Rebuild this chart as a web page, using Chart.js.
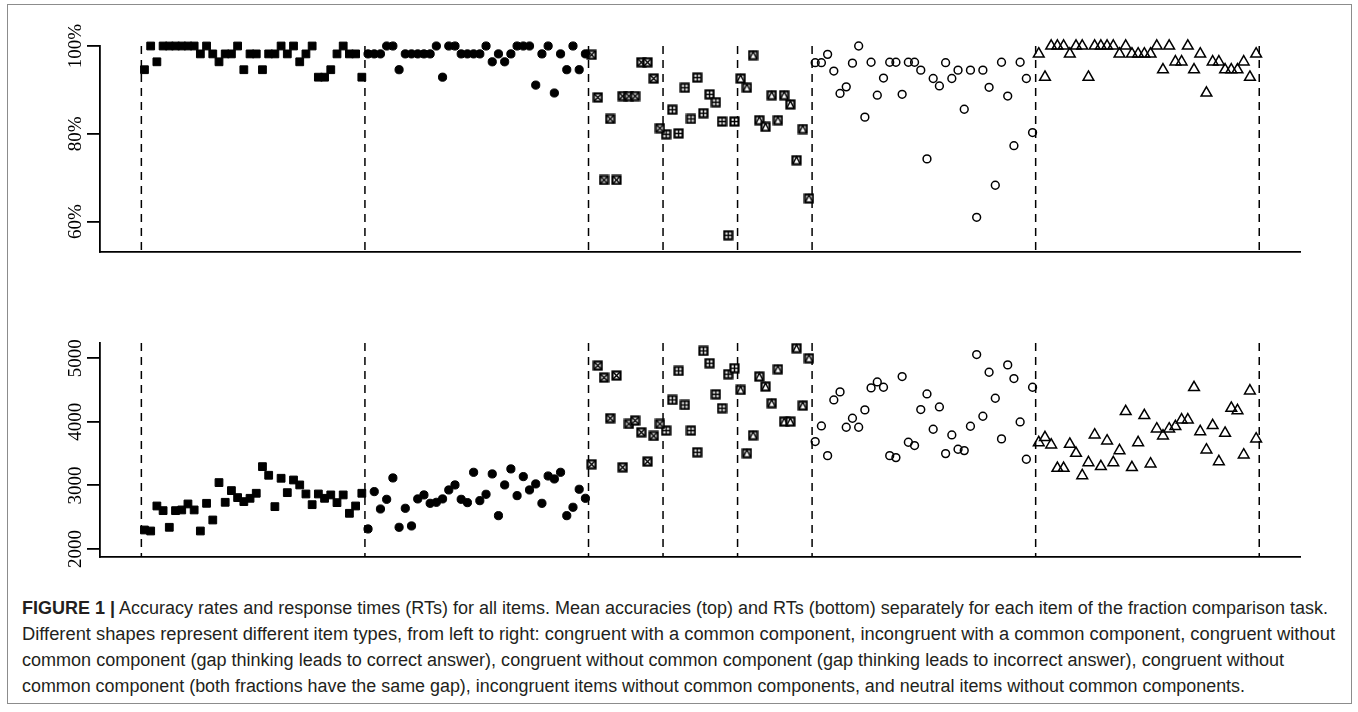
<!DOCTYPE html>
<html>
<head>
<meta charset="utf-8">
<script src="https://cdn.jsdelivr.net/npm/chart.js@4.4.1/dist/chart.umd.min.js"></script>
<style>
  html, body { margin: 0; padding: 0; background: #fff; width: 1358px; height: 712px; overflow: hidden; }
  #frame { position: absolute; left: 7px; top: 4px; width: 1345px; height: 700px; border: 1px solid #8c8c8c; box-sizing: border-box; }
  canvas { position: absolute; left: 0; }
  #accChart { top: 0; }
  #rtChart { top: 300px; }
  .cap { position: absolute; left: 22px; white-space: nowrap; font-family: "Liberation Sans", Arial, sans-serif;
         font-size: 18px; line-height: 26px; color: #231f20; transform-origin: 0 50%; }
  .cap b { font-weight: bold; }
</style>
</head>
<body>
<div id="frame"></div>
<canvas id="accChart" width="1358" height="300"></canvas>
<canvas id="rtChart" width="1358" height="280"></canvas>
<div class="cap" id="cap1" style="top:595px"><b>FIGURE 1 |</b> Accuracy rates and response times (RTs) for all items. Mean accuracies (top) and RTs (bottom) separately for each item of the fraction comparison task.</div>
<div class="cap" id="cap2" style="top:621px">Different shapes represent different item types, from left to right: congruent with a common component, incongruent with a common component, congruent without</div>
<div class="cap" id="cap3" style="top:647px">common component (gap thinking leads to correct answer), congruent without common component (gap thinking leads to incorrect answer), congruent without</div>
<div class="cap" id="cap4" style="top:673px">common component (both fractions have the same gap), incongruent items without common components, and neutral items without common components.</div>
<script>
// ---- Item types, left to right ----
const itemTypes = [
  'congruent, common component',
  'incongruent, common component',
  'congruent, no common component (gap → correct)',
  'congruent, no common component (gap → incorrect)',
  'congruent, no common component (same gap)',
  'incongruent, no common component',
  'neutral, no common component'
];

// ---- Mean accuracy per item (%) ----
const accCongCommon = [94.6, 100, 96.4, 100, 100, 100, 100, 100, 100, 98.2, 100, 98.2, 96.4, 98.2, 98.2, 100, 94.6, 98.2,
  98.2, 94.6, 98.2, 98.2, 100, 98.2, 100, 96.4, 98.2, 100, 92.9, 92.9, 94.6, 98.2, 100, 98.2, 98.2, 92.9];
const accIncongCommon = [98.2, 98.2, 98.2, 100, 100, 94.6, 98.2, 98.2, 98.2, 98.2, 98.2, 100, 92.9, 100, 100, 98.2, 98.2, 98.2,
  98.2, 100, 96.4, 98.2, 96.4, 98.2, 100, 100, 100, 91.1, 98.2, 100, 89.3, 98.2, 94.6, 100, 94.6, 98.2];
const accGapCorrect = [98.0, 88.3, 69.5, 83.4, 69.5, 88.6, 88.6, 88.6, 96.3, 96.3, 92.6, 81.3];
const accGapIncorrect = [79.9, 85.5, 80.1, 90.5, 83.4, 92.8, 84.7, 89.0, 87.2, 82.8, 56.9, 82.8];
const accSameGap = [92.6, 90.5, 97.9, 83.1, 81.6, 88.8, 83.1, 88.8, 86.7, 74.0, 81.1, 65.3];
const accIncongNoCommon = [96.2, 96.2, 98.1, 94.3, 89.2, 90.7, 96.1, 100, 83.8, 96.3, 88.8, 92.7, 96.3, 96.3, 89.0, 96.3, 96.3, 94.5,
  74.3, 92.6, 90.9, 96.2, 92.6, 94.5, 85.6, 94.5, 61.0, 94.5, 90.6, 68.3, 96.3, 88.6, 77.3, 96.3, 92.6, 80.3];
const accNeutral = [98.2, 92.9, 100, 100, 100, 98.2, 100, 100, 92.9, 100, 100, 100, 100, 98.2, 100, 98.2, 98.2, 98.2,
  98.2, 100, 94.6, 100, 96.4, 96.4, 100, 94.6, 98.2, 89.3, 96.4, 96.4, 94.6, 94.6, 94.6, 96.4, 92.9, 98.2];

// ---- Mean response time per item (ms) ----
const rtCongCommon = [2299, 2283, 2676, 2603, 2341, 2603, 2614, 2708, 2614, 2283, 2718, 2456, 3044, 2734, 2918, 2808, 2745, 2797,
  2876, 3295, 3159, 2666, 3112, 2886, 3085, 3007, 2865, 2697, 2865, 2797, 2850, 2729, 2850, 2561, 2676, 2876];
const rtIncongCommon = [2315, 2902, 2629, 2781, 3117, 2341, 2640, 2362, 2787, 2850, 2718, 2734, 2787, 2928, 3007, 2781, 2729, 3206,
  2760, 2860, 3180, 2524, 3007, 3259, 2839, 3138, 2928, 3023, 2718, 3148, 3101, 3206, 2524, 2656, 2939, 2797];
const rtGapCorrect = [3332, 4884, 4695, 4056, 4727, 3285, 3967, 4019, 3835, 3374, 3778, 3967];
const rtGapIncorrect = [3862, 4344, 4800, 4265, 3862, 3521, 5115, 4921, 4433, 4213, 4748, 4842];
const rtSameGap = [4501, 3505, 3788, 4711, 4554, 4292, 4826, 4003, 4003, 5157, 4255, 4999];
const rtIncongNoCommon = [3689, 3935, 3468, 4344, 4470, 3914, 4056, 3914, 4187, 4533, 4627, 4543, 3468, 3437, 4711, 3678, 3626, 4192,
  4438, 3883, 4234, 3500, 3793, 3568, 3547, 3930, 5057, 4087, 4779, 4370, 3731, 4895, 4680, 3998, 3411, 4543];
const rtNeutral = [3674, 3753, 3637, 3270, 3270, 3648, 3506, 3155, 3359, 3795, 3297, 3700, 3359, 3548, 4162, 3281, 3674, 4099,
  3338, 3889, 3779, 3889, 3926, 4031, 4031, 4539, 3847, 3559, 3942, 3375, 3821, 4214, 4177, 3480, 4487, 3732];

// ---- Axis tick labels ----
const accTicks = [60, 80, 100];
const accTickLabels = ['60%', '80%', '100%'];
const rtTicks = [2000, 3000, 4000, 5000];
const rtTickLabels = ['2000', '3000', '4000', '5000'];

// ---- Marker glyphs: squares with a cross, a plus or a triangle inside ----
function boxedMarker(kind) {
  const s = 11, c = document.createElement('canvas');
  c.width = s; c.height = s;
  const g = c.getContext('2d');
  g.fillStyle = '#fff'; g.fillRect(1, 1, 9, 9);
  g.strokeStyle = '#000'; g.lineWidth = 2.2;
  g.strokeRect(1.5, 1.5, 8, 8);
  g.lineWidth = 1.5; g.beginPath();
  if (kind === 'cross') { g.moveTo(2, 2); g.lineTo(9, 9); g.moveTo(9, 2); g.lineTo(2, 9); }
  if (kind === 'plus') { g.moveTo(5.5, 2); g.lineTo(5.5, 9); g.moveTo(2, 5.5); g.lineTo(9, 5.5); }
  if (kind === 'tri') { g.moveTo(2, 9); g.lineTo(5.5, 2); g.lineTo(9, 9); }
  g.stroke();
  return c;
}

const markerStyles = [
  { pointStyle: 'rect', pointRadius: 5.5, backgroundColor: '#000', borderColor: '#000', borderWidth: 1 },
  { pointStyle: 'circle', pointRadius: 4.1, backgroundColor: '#000', borderColor: '#000', borderWidth: 1 },
  { pointStyle: boxedMarker('cross'), pointRadius: 5 },
  { pointStyle: boxedMarker('plus'), pointRadius: 5 },
  { pointStyle: boxedMarker('tri'), pointRadius: 5 },
  { pointStyle: 'circle', pointRadius: 3.9, backgroundColor: 'rgba(0,0,0,0)', borderColor: '#000', borderWidth: 1.5 },
  { pointStyle: 'triangle', pointRadius: 6.2, backgroundColor: 'rgba(0,0,0,0)', borderColor: '#000', borderWidth: 1.5 }
];

const accGroups = [accCongCommon, accIncongCommon, accGapCorrect, accGapIncorrect, accSameGap, accIncongNoCommon, accNeutral];
const rtGroups = [rtCongCommon, rtIncongCommon, rtGapCorrect, rtGapIncorrect, rtSameGap, rtIncongNoCommon, rtNeutral];

// item numbers run 1..N across the groups; dashed separators sit between groups
function buildDatasets(groups) {
  let start = 1;
  return groups.map((vals, gi) => {
    const ds = Object.assign({
      label: itemTypes[gi],
      data: vals.map((v, k) => ({ x: start + k, y: v })),
      showLine: false,
      clip: false
    }, markerStyles[gi]);
    start += vals.length;
    return ds;
  });
}
function groupBoundaries(groups) {
  const b = [0.5];
  let n = 0;
  groups.forEach(g => { n += g.length; b.push(n + 0.5); });
  return b;
}
const nItems = accGroups.reduce((s, g) => s + g.length, 0);
const xPad = (nItems - 1) * 0.04;

const separators = {
  id: 'separators',
  beforeDatasetsDraw(chart, args, opts) {
    const { ctx, chartArea, scales } = chart;
    ctx.save();
    ctx.strokeStyle = '#000';
    ctx.lineWidth = 1.5;
    ctx.setLineDash([8, 6]);
    opts.at.forEach(b => {
      const x = scales.x.getPixelForValue(b);
      ctx.beginPath();
      ctx.moveTo(x, chartArea.top);
      ctx.lineTo(x, chartArea.bottom);
      ctx.stroke();
    });
    ctx.restore();
  }
};

const rotatedTickLabels = {
  id: 'rotatedTickLabels',
  afterDraw(chart, args, opts) {
    const { ctx, scales } = chart;
    ctx.save();
    ctx.fillStyle = '#000';
    ctx.font = '19px "Liberation Serif", "Times New Roman", serif';
    ctx.textAlign = 'center';
    ctx.textBaseline = 'middle';
    opts.values.forEach((v, i) => {
      const y = scales.y.getPixelForValue(v);
      ctx.save();
      ctx.translate(opts.x, y);
      ctx.rotate(-Math.PI / 2);
      ctx.fillText(opts.labels[i], 0, 1);
      ctx.restore();
    });
    ctx.restore();
  }
};

function makePanel(canvasId, groups, yMin, yMax, tickVals, tickLabels, padding) {
  return new Chart(document.getElementById(canvasId), {
    type: 'scatter',
    data: { datasets: buildDatasets(groups) },
    plugins: [separators, rotatedTickLabels],
    options: {
      responsive: false,
      animation: false,
      events: [],
      layout: { padding },
      plugins: {
        legend: { display: false },
        tooltip: { enabled: false },
        separators: { at: groupBoundaries(groups) },
        rotatedTickLabels: { values: tickVals, labels: tickLabels, x: 75 }
      },
      elements: { point: { hoverRadius: 0 } },
      scales: {
        x: {
          type: 'linear',
          min: 1 - xPad, max: nItems + xPad,
          ticks: { display: false },
          grid: { display: false },
          border: { display: true, color: '#000', width: 1.8 },
          afterFit(s) { s.height = 0; }
        },
        y: {
          type: 'linear',
          min: yMin, max: yMax,
          afterBuildTicks(s) { s.ticks = tickVals.map(v => ({ value: v })); },
          ticks: { display: false },
          grid: { display: true, drawOnChartArea: false, drawTicks: true, tickLength: 13, color: '#000', lineWidth: 1.8 },
          border: { display: true, color: '#000', width: 1.8 },
          afterFit(s) { s.width = 0; }
        }
      }
    }
  });
}

makePanel('accChart', accGroups, 53.1, 100, accTicks, accTickLabels, { left: 100, right: 57.4, top: 46, bottom: 48 });
makePanel('rtChart', rtGroups, 1874, 5239, rtTicks, rtTickLabels, { left: 100, right: 57.4, top: 43, bottom: 23 });

// caption lines are set in a narrow face: squeeze each line to its measure
const captionWidths = { cap1: 1306, cap2: 1313, cap3: 1262, cap4: 1223 };
function fitCaption() {
  Object.keys(captionWidths).forEach(id => {
    const el = document.getElementById(id);
    el.style.transform = 'none';
    const w = el.getBoundingClientRect().width;
    el.style.transform = 'scaleX(' + (captionWidths[id] / w) + ')';
  });
}
fitCaption();
if (document.fonts && document.fonts.ready) document.fonts.ready.then(fitCaption);
</script>
</body>
</html>
